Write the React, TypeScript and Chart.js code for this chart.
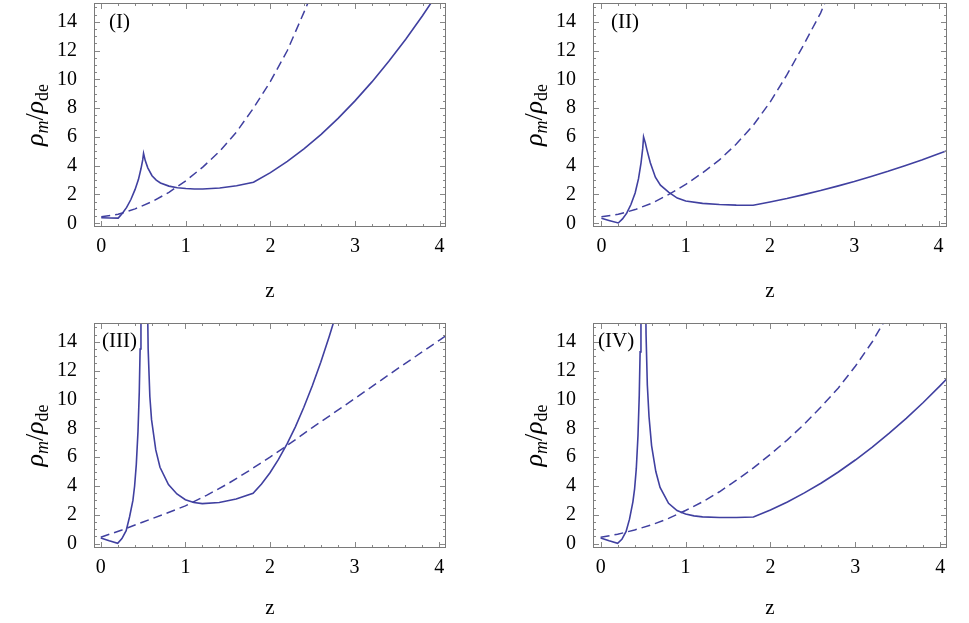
import React, { useEffect, useRef } from 'react';
import { Chart, registerables } from 'chart.js';

Chart.register(...registerables);

const LINE_COLOR = 'rgb(64,64,160)';
const FONT = '"Liberation Serif", "Times New Roman", serif';

// Tick labels
const xTickValues = [0, 1, 2, 3, 4];
const yTickValues = [0, 2, 4, 6, 8, 10, 12, 14];
const xMinorStep = 0.2;
const yMinorStep = 0.5;

// Panel labels
const panelLabels = ['(I)', '(II)', '(III)', '(IV)'];

// Panel I
const zSolidI = [0, 0.1, 0.2, 0.25, 0.3, 0.35, 0.4, 0.44, 0.47, 0.49, 0.5, 0.52, 0.55, 0.6, 0.65, 0.7, 0.8, 0.9, 1.0, 1.1, 1.2, 1.4, 1.6, 1.8, 2.0, 2.2, 2.4, 2.6, 2.8, 3.0, 3.2, 3.4, 3.6, 3.8, 4.0, 4.1];
const vSolidI = [0.38, 0.37, 0.36, 0.7, 1.1, 1.65, 2.35, 3.05, 3.8, 4.4, 4.85, 4.35, 3.85, 3.3, 3.0, 2.8, 2.58, 2.47, 2.41, 2.38, 2.38, 2.45, 2.6, 2.85, 3.52, 4.3, 5.19, 6.18, 7.29, 8.5, 9.82, 11.25, 12.78, 14.43, 16.19, 17.1];
const zDashI = [0, 0.2, 0.4, 0.6, 0.8, 1.0, 1.2, 1.4, 1.6, 1.8, 2.0, 2.2, 2.4, 2.6];
const vDashI = [0.45, 0.62, 1.0, 1.5, 2.15, 2.95, 3.9, 5.0, 6.35, 8.0, 9.85, 12.0, 14.7, 17.5];

// Panel II
const zSolidII = [0, 0.1, 0.2, 0.25, 0.3, 0.35, 0.4, 0.44, 0.47, 0.49, 0.5, 0.52, 0.54, 0.58, 0.64, 0.7, 0.8, 0.9, 1.0, 1.2, 1.4, 1.6, 1.8, 2.0, 2.2, 2.4, 2.6, 2.8, 3.0, 3.2, 3.4, 3.6, 3.8, 4.0, 4.1];
const vSolidII = [0.35, 0.18, 0.02, 0.3, 0.7, 1.3, 2.1, 3.1, 4.2, 5.2, 6.0, 5.6, 5.1, 4.2, 3.2, 2.65, 2.15, 1.75, 1.55, 1.38, 1.3, 1.26, 1.25, 1.48, 1.72, 1.99, 2.27, 2.58, 2.9, 3.25, 3.61, 4.0, 4.4, 4.83, 5.04];
const zDashII = [0, 0.2, 0.4, 0.6, 0.8, 1.0, 1.2, 1.4, 1.6, 1.8, 2.0, 2.2, 2.4, 2.6, 2.8];
const vDashII = [0.45, 0.62, 0.95, 1.4, 2.0, 2.7, 3.5, 4.4, 5.5, 6.8, 8.4, 10.3, 12.4, 14.6, 17.4];

// Panel III
const zSolidIII = [0, 0.1, 0.2, 0.25, 0.3, 0.34, 0.38, 0.4, 0.42, 0.44, 0.455, 0.465, 0.475, 0.5, 0.545, 0.56, 0.58, 0.6, 0.65, 0.7, 0.8, 0.9, 1.0, 1.1, 1.2, 1.4, 1.6, 1.8, 1.9, 2.0, 2.1, 2.2, 2.3, 2.4, 2.5, 2.6, 2.7, 2.8, 2.9];
const vSolidIII = [0.4, 0.2, 0.02, 0.35, 0.9, 1.85, 3.0, 4.0, 5.5, 7.8, 10.5, 13.5, 20, null, 20, 13.5, 10.2, 8.6, 6.5, 5.3, 4.1, 3.45, 3.05, 2.85, 2.78, 2.85, 3.1, 3.5, 4.14, 4.92, 5.84, 6.9, 8.1, 9.46, 10.95, 12.58, 14.36, 16.28, 18.3];
const zDashIII = [0, 0.25, 0.5, 0.75, 1.0, 1.25, 1.5, 1.75, 2.0, 2.25, 2.5, 3.0, 3.5, 4.0, 4.1];
const vDashIII = [0.45, 0.95, 1.5, 2.05, 2.62, 3.35, 4.15, 5.05, 6.0, 7.0, 8.05, 10.05, 12.1, 14.1, 14.5];

// Panel IV
const zSolidIV = [0, 0.1, 0.2, 0.25, 0.3, 0.34, 0.38, 0.4, 0.42, 0.44, 0.455, 0.465, 0.475, 0.5, 0.525, 0.535, 0.55, 0.57, 0.6, 0.65, 0.7, 0.8, 0.9, 1.0, 1.1, 1.2, 1.4, 1.6, 1.8, 2.0, 2.2, 2.4, 2.6, 2.8, 3.0, 3.2, 3.4, 3.6, 3.8, 4.0, 4.1];
const vSolidIV = [0.4, 0.2, 0.02, 0.3, 0.85, 1.7, 2.9, 3.8, 5.2, 7.5, 10.3, 13.3, 20, null, 20, 14.5, 11.0, 8.8, 6.8, 5.0, 3.9, 2.8, 2.3, 2.05, 1.93, 1.86, 1.81, 1.81, 1.85, 2.34, 2.89, 3.52, 4.21, 4.97, 5.8, 6.7, 7.66, 8.69, 9.79, 10.96, 11.57];
const zDashIV = [0, 0.2, 0.4, 0.6, 0.8, 1.0, 1.2, 1.4, 1.6, 1.8, 2.0, 2.2, 2.4, 2.6, 2.8, 3.0, 3.2, 3.4];
const vDashIV = [0.45, 0.65, 0.95, 1.3, 1.75, 2.3, 2.9, 3.6, 4.4, 5.25, 6.2, 7.2, 8.3, 9.5, 10.8, 12.3, 14.0, 16.0];

type PanelDef = {
  left: number; top: number; width: number; height: number;
  padRight: number; xAxisH: number; titlePadBottom: number;
  xMin: number; xMax: number; yMin: number; yMax: number;
  label: string; labelDx: number; labelDy: number;
  solidZ: number[]; solidV: (number | null)[]; dashZ: number[]; dashV: number[];
};

const panels: PanelDef[] = [
  { left: 0, top: 0, width: 484, height: 311, padRight: 38, xAxisH: 84, titlePadBottom: 7,
    xMin: -0.086, xMax: 4.076, yMin: -0.26, yMax: 15.3, label: panelLabels[0], labelDx: 15, labelDy: 19,
    solidZ: zSolidI, solidV: vSolidI, dashZ: zDashI, dashV: vDashI },
  { left: 499, top: 0, width: 470, height: 311, padRight: 22, xAxisH: 84, titlePadBottom: 7,
    xMin: -0.1, xMax: 4.1, yMin: -0.26, yMax: 15.3, label: panelLabels[1], labelDx: 18, labelDy: 19,
    solidZ: zSolidII, solidV: vSolidII, dashZ: zDashII, dashV: vDashII },
  { left: 0, top: 320, width: 484, height: 303, padRight: 38, xAxisH: 75, titlePadBottom: 2,
    xMin: -0.08, xMax: 4.08, yMin: -0.3, yMax: 15.3, label: panelLabels[2], labelDx: 8, labelDy: 18,
    solidZ: zSolidIII, solidV: vSolidIII, dashZ: zDashIII, dashV: vDashIII },
  { left: 499, top: 320, width: 470, height: 303, padRight: 22, xAxisH: 75, titlePadBottom: 2,
    xMin: -0.09, xMax: 4.08, yMin: -0.3, yMax: 15.3, label: panelLabels[3], labelDx: 5, labelDy: 18,
    solidZ: zSolidIV, solidV: vSolidIV, dashZ: zDashIV, dashV: vDashIV },
];

const overlayPlugin = {
  id: 'overlay',
  afterDatasetsDraw(chart: any, _args: any, opts: any) {
    const { ctx, chartArea, scales } = chart;
    const { left, right, top, bottom } = chartArea;
    const xs = scales.x;
    const ys = scales.y;
    ctx.save();
    ctx.strokeStyle = '#888888';
    ctx.lineWidth = 1;
    ctx.beginPath();
    const xMaj = new Set(xTickValues.map((v) => v.toFixed(2)));
    for (let v = 0; v <= xs.max + 1e-9; v += xMinorStep) {
      if (v < xs.min) continue;
      const major = xMaj.has(v.toFixed(2));
      const len = major ? 6 : 3;
      const px = Math.round(xs.getPixelForValue(v)) + 0.5;
      ctx.moveTo(px, bottom); ctx.lineTo(px, bottom - len);
      ctx.moveTo(px, top); ctx.lineTo(px, top + len);
    }
    const yMaj = new Set(yTickValues.map((v) => v.toFixed(2)));
    for (let v = 0; v <= ys.max + 1e-9; v += yMinorStep) {
      if (v < ys.min) continue;
      const major = yMaj.has(v.toFixed(2));
      const len = major ? 6 : 3;
      const py = Math.round(ys.getPixelForValue(v)) + 0.5;
      ctx.moveTo(left, py); ctx.lineTo(left + len, py);
      ctx.moveTo(right, py); ctx.lineTo(right - len, py);
    }
    ctx.stroke();
    ctx.strokeStyle = '#7a7a7a';
    ctx.strokeRect(Math.round(left) + 0.5, Math.round(top) + 0.5, Math.round(right - left) - 1, Math.round(bottom - top) - 1);

    ctx.fillStyle = '#000';
    ctx.font = `21px ${FONT}`;
    ctx.textAlign = 'left';
    ctx.textBaseline = 'middle';
    ctx.fillText(opts.label, left + opts.labelDx, top + opts.labelDy);

    const parts = [
      { t: 'ρ', f: `italic 26px ${FONT}`, dy: 0 },
      { t: 'm', f: `italic 18px ${FONT}`, dy: 5 },
      { t: '/', f: `26px ${FONT}`, dy: 0 },
      { t: 'ρ', f: `italic 26px ${FONT}`, dy: 0 },
      { t: 'de', f: `18px ${FONT}`, dy: 5 },
    ];
    let total = 0;
    const widths = parts.map((p) => { ctx.font = p.f; const w = ctx.measureText(p.t).width; total += w; return w; });
    const cy = (top + bottom) / 2;
    ctx.translate(43, cy);
    ctx.rotate(-Math.PI / 2);
    ctx.textBaseline = 'alphabetic';
    let u = -total / 2;
    parts.forEach((p, i) => {
      ctx.font = p.f;
      ctx.fillText(p.t, u, p.dy);
      u += widths[i];
    });
    ctx.restore();
  },
};

function ChartPanel({ p }: { p: PanelDef }) {
  const ref = useRef<HTMLCanvasElement>(null);
  useEffect(() => {
    const canvas = ref.current;
    if (!canvas) return;
    const solid = p.solidZ.map((z, i) => ({ x: z, y: p.solidV[i] }));
    const dash = p.dashZ.map((z, i) => ({ x: z, y: p.dashV[i] }));
    const chart = new Chart(canvas, {
      type: 'line',
      data: {
        datasets: [
          { data: dash as any, borderColor: LINE_COLOR, borderWidth: 1.5, borderDash: [9, 5], pointRadius: 0, tension: 0, fill: false, clip: 0 as any },
          { data: solid as any, borderColor: LINE_COLOR, borderWidth: 1.6, pointRadius: 0, tension: 0, fill: false, spanGaps: false, clip: 0 as any },
        ],
      },
      options: {
        responsive: false,
        maintainAspectRatio: false,
        animation: false,
        events: [],
        layout: { padding: { top: 3, right: p.padRight, left: 0, bottom: 0 } },
        plugins: {
          legend: { display: false },
          tooltip: { enabled: false },
          overlay: { label: p.label, labelDx: p.labelDx, labelDy: p.labelDy },
        } as any,
        scales: {
          x: {
            type: 'linear',
            min: p.xMin,
            max: p.xMax,
            grid: { display: false },
            border: { display: false },
            afterBuildTicks: (s: any) => { s.ticks = xTickValues.map((v) => ({ value: v })); },
            afterFit: (s: any) => { s.height = p.xAxisH; s.paddingLeft = 0; s.paddingRight = 0; s.paddingTop = 0; s.paddingBottom = 0; },
            ticks: { font: { family: FONT, size: 20 }, color: '#000', padding: 0, maxRotation: 0, autoSkip: false },
            title: { display: true, text: 'z', font: { family: FONT, size: 21 }, color: '#000', padding: { top: 0, bottom: p.titlePadBottom } },
          },
          y: {
            type: 'linear',
            min: p.yMin,
            max: p.yMax,
            grid: { display: false },
            border: { display: false },
            afterBuildTicks: (s: any) => { s.ticks = yTickValues.map((v) => ({ value: v })); },
            afterFit: (s: any) => { s.width = 94; s.paddingTop = 0; s.paddingBottom = 0; s.paddingLeft = 0; s.paddingRight = 0; },
            ticks: { font: { family: FONT, size: 20 }, color: '#000', padding: 9, autoSkip: false },
          },
        },
      } as any,
      plugins: [overlayPlugin],
    });
    return () => chart.destroy();
  }, [p]);
  return (
    <canvas
      ref={ref}
      width={p.width}
      height={p.height}
      style={{ position: 'absolute', left: p.left, top: p.top, width: p.width, height: p.height }}
    />
  );
}

export default function App() {
  return (
    <div style={{ position: 'absolute', left: 0, top: 0, width: 969, height: 623, background: '#fff', overflow: 'hidden' }}>
      {panels.map((p, i) => (
        <ChartPanel key={i} p={p} />
      ))}
    </div>
  );
}
